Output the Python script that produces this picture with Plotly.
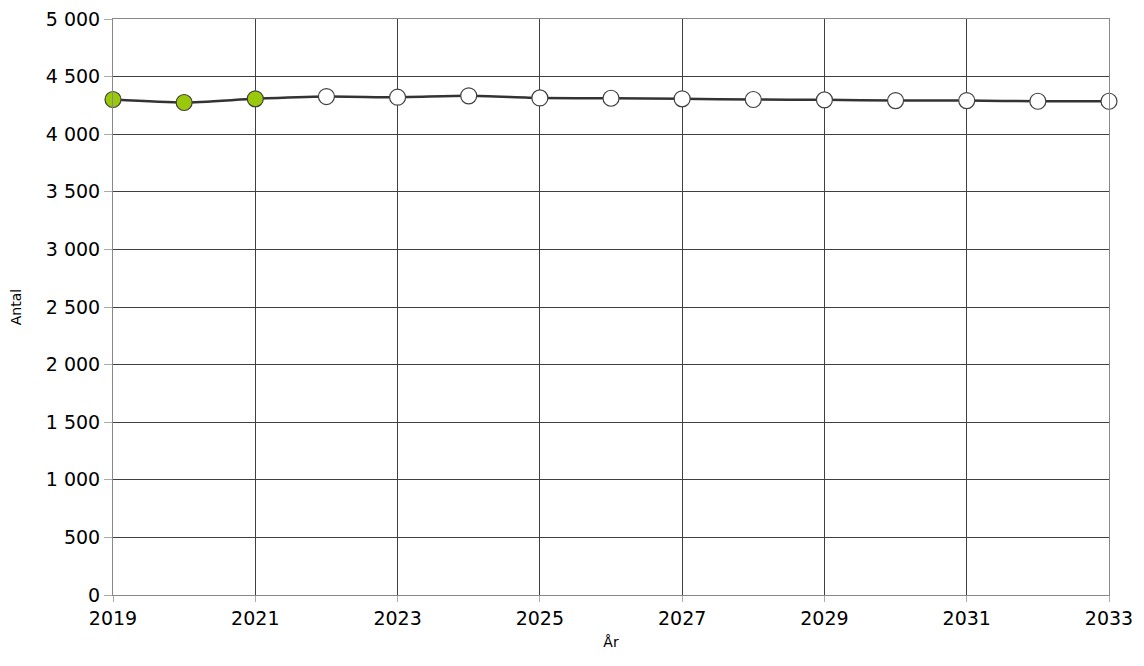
import plotly.graph_objects as go

years = list(range(2019, 2034))
values = [4301, 4275, 4307, 4327, 4321, 4333, 4315, 4312, 4307, 4301, 4298, 4292, 4292, 4286, 4286]
n_actual = 3  # 2019-2021 observed (green), rest forecast (white)

y_tickvals = list(range(0, 5001, 500))
y_ticktext = ["0", "500", "1 000", "1 500", "2 000", "2 500", "3 000", "3 500", "4 000", "4 500", "5 000"]
x_tickvals = list(range(2019, 2034, 2))

marker_colors = ["#99c90a"] * n_actual + ["#ffffff"] * (len(years) - n_actual)

fig = go.Figure()
fig.add_trace(go.Scatter(
    x=years, y=values, mode="lines+markers",
    line=dict(color="#333333", width=2.5, shape="spline", smoothing=0.6),
    marker=dict(size=16, color=marker_colors, line=dict(color="#404040", width=1.2)),
    showlegend=False, cliponaxis=False,
))

fig.update_layout(
    width=1144, height=666,
    margin=dict(l=105, r=43, t=11, b=79),
    paper_bgcolor="white", plot_bgcolor="white",
    font=dict(family="DejaVu Sans, Arial, sans-serif", color="#000000", size=19),
)
fig.update_xaxes(
    range=[2019, 2033], tickvals=x_tickvals, ticktext=[str(v) for v in x_tickvals],
    showgrid=True, gridcolor="#404040", gridwidth=1,
    showline=True, linecolor="#888888", linewidth=1, mirror=True,
    ticks="outside", ticklen=6, tickcolor="#aaaaaa",
    ticklabeloverflow="allow", automargin="bottom",
    title=dict(text="År", font=dict(size=14), standoff=9),
    zeroline=False,
)
fig.update_yaxes(
    range=[0, 5000], tickvals=y_tickvals, ticktext=y_ticktext,
    showgrid=True, gridcolor="#404040", gridwidth=1,
    showline=True, linecolor="#888888", linewidth=1, mirror=True,
    ticks="outside", ticklen=8, tickcolor="#aaaaaa",
    ticklabeloverflow="allow", automargin=False,
    title=dict(text="Antal", font=dict(size=14), standoff=40),
    zeroline=False,
)

fig.write_html("out.html")
